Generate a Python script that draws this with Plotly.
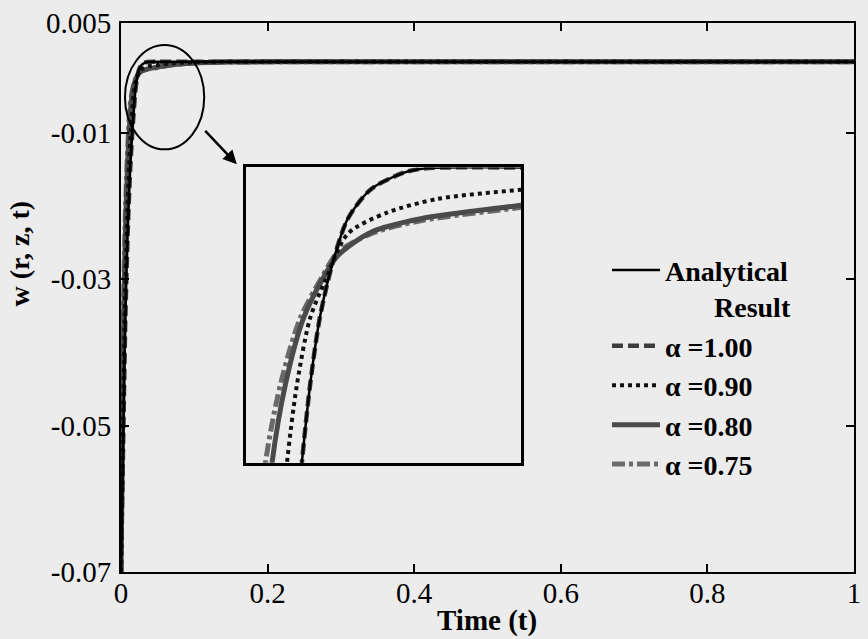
import plotly.graph_objects as go

# ---------------- data ----------------
t_analytical = [0, 0.003, 0.006, 0.009, 0.0125, 0.0155, 0.01816, 0.01936, 0.02076, 0.02268, 0.02484, 0.0282, 0.033, 0.03588, 0.05, 0.1, 0.5, 1.0]
w_analytical = [-0.07, -0.052, -0.035, -0.024, -0.015, -0.0098, -0.006, -0.0045, -0.00321, -0.00212, -0.00129, -0.00072, -0.0004, -0.00032, -0.0003, -0.0003, -0.0003, -0.0003]

t_a100 = [0, 0.003, 0.006, 0.009, 0.0125, 0.0155, 0.01816, 0.01936, 0.02076, 0.02268, 0.02484, 0.0282, 0.033, 0.03588, 0.05, 0.1, 0.5, 1.0]
w_a100 = [-0.07, -0.052, -0.035, -0.024, -0.015, -0.0098, -0.006, -0.0045, -0.00321, -0.00212, -0.00129, -0.00072, -0.0004, -0.00032, -0.0003, -0.0003, -0.0003, -0.0003]

t_a090 = [0, 0.0025, 0.005, 0.008, 0.011, 0.0135, 0.016, 0.01744, 0.01936, 0.02148, 0.02484, 0.0306, 0.0378, 0.05, 0.07, 0.1, 0.15, 0.5, 1.0]
w_a090 = [-0.07, -0.052, -0.035, -0.023, -0.0145, -0.0095, -0.006, -0.0045, -0.00321, -0.00251, -0.00158, -0.00117, -0.00091, -0.00073, -0.0005, -0.00035, -0.0003, -0.0003, -0.0003]

t_a080 = [0, 0.002, 0.004, 0.0065, 0.009, 0.0115, 0.01384, 0.01576, 0.0184, 0.02148, 0.0234, 0.0282, 0.0354, 0.05, 0.07, 0.1, 0.15, 0.25, 0.5, 1.0]
w_a080 = [-0.07, -0.05, -0.034, -0.022, -0.0145, -0.0093, -0.006, -0.0045, -0.00321, -0.00238, -0.002, -0.00155, -0.00129, -0.00103, -0.0007, -0.00045, -0.00033, -0.0003, -0.0003, -0.0003]

t_a075 = [0, 0.0018, 0.0035, 0.0058, 0.0082, 0.0105, 0.01288, 0.01504, 0.01792, 0.02124, 0.0234, 0.0282, 0.0354, 0.05, 0.07, 0.1, 0.15, 0.25, 0.5, 1.0]
w_a075 = [-0.07, -0.05, -0.034, -0.022, -0.0145, -0.0093, -0.006, -0.0045, -0.00321, -0.00238, -0.00194, -0.00158, -0.00133, -0.00107, -0.00072, -0.00046, -0.00033, -0.0003, -0.0003, -0.0003]

x_ticks = [0, 0.2, 0.4, 0.6, 0.8, 1]
x_tick_labels = ["0", "0.2", "0.4", "0.6", "0.8", "1"]
y_ticks = [0.005, -0.01, -0.03, -0.05, -0.07]
y_tick_labels = ["0.005", "-0.01", "-0.03", "-0.05", "-0.07"]

# inset (zoomed) window
inset_x_range = [0.01, 0.05]
inset_y_range = [-0.006, -0.0003]

# ---------------- figure ----------------
FONT = "Liberation Serif"
BG = "#ececec"
SP = "\u00a0" * 7

series = [
    # name, t, w, color, width, dash, rank
    ("α =0.75", t_a075, w_a075, "#6a6a6a", 5, "13px,4px,4px,4px", 5),
    ("α =0.80", t_a080, w_a080, "#4a4a4a", 5, "solid", 4),
    ("α =1.00", t_a100, w_a100, "#3c3c3c", 4.5, "11px,5px", 2),
    ("α =0.90", t_a090, w_a090, "#111111", 4, "4px,4px", 3),
    ("Analytical<br>" + SP + "Result", t_analytical, w_analytical, "#000000", 2.5, "solid", 1),
]

fig = go.Figure()
for name, t, w, col, lw, dash, rank in series:
    fig.add_trace(go.Scatter(
        x=t, y=w, mode="lines", name="<b>" + name + "</b>",
        line=dict(color=col, width=lw, dash=dash, shape="spline", smoothing=0.8),
        legendrank=rank, legendgroup=name, xaxis="x", yaxis="y"))
for name, t, w, col, lw, dash, rank in series:
    fig.add_trace(go.Scatter(
        x=t, y=w, mode="lines", showlegend=False,
        line=dict(color=col, width=lw, dash=dash, shape="spline", smoothing=0.8),
        xaxis="x2", yaxis="y2"))

axis_common = dict(showline=True, linecolor="black", linewidth=2, mirror="ticks",
                   ticks="inside", ticklen=8, tickwidth=1.5, tickcolor="black",
                   showgrid=False, zeroline=False,
                   tickfont=dict(family=FONT, size=29, color="black"))

fig.update_layout(
    width=868, height=639,
    margin=dict(l=121, r=7, t=20, b=67),
    paper_bgcolor=BG, plot_bgcolor=BG,
    font=dict(family=FONT, color="black"),
    xaxis=dict(range=[0, 1], tickvals=x_tick_labels and x_ticks, ticktext=x_tick_labels,
               ticklabelstandoff=-6, **axis_common),
    yaxis=dict(range=[-0.07, 0.005], tickvals=y_ticks, ticktext=y_tick_labels,
               ticklabelstandoff=2, **axis_common),
    xaxis2=dict(domain=[0.170, 0.546], anchor="y2", range=inset_x_range,
                showline=True, linecolor="black", linewidth=2.5, mirror=True,
                showticklabels=False, ticks="", showgrid=False, zeroline=False),
    yaxis2=dict(domain=[0.199, 0.737], anchor="x2", range=inset_y_range,
                showline=True, linecolor="black", linewidth=2.5, mirror=True,
                showticklabels=False, ticks="", showgrid=False, zeroline=False),
    legend=dict(x=0.663, y=0.595, xanchor="left", yanchor="top", valign="top",
                bgcolor="rgba(0,0,0,0)", borderwidth=0, itemwidth=48,
                font=dict(family=FONT, size=28, color="black"),
                tracegroupgap=0, traceorder="grouped"),
    showlegend=True,
)

# axis titles
fig.add_annotation(text="<b>w (r, z, t)</b>", textangle=-90, xref="paper", yref="paper",
                   x=-0.138, y=0.58, showarrow=False, xanchor="center", yanchor="middle",
                   font=dict(family=FONT, size=28, color="black"))
fig.add_annotation(text="<b>Time (t)</b>", xref="paper", yref="paper",
                   x=0.499, y=-0.088, showarrow=False, xanchor="center", yanchor="middle",
                   font=dict(family=FONT, size=29, color="black"))

# ellipse highlighting the knee region
fig.add_shape(type="circle", xref="x", yref="y", x0=0.0054, x1=0.1135, y0=-0.01226, y1=0.002,
              line=dict(color="black", width=2))

# arrow pointing to the inset
fig.add_annotation(x=0.158, y=-0.0143, xref="x", yref="y", ax=-33, ay=-35,
                   showarrow=True, arrowhead=2, arrowsize=1.1, arrowwidth=2.5, arrowcolor="black",
                   text="")

fig.write_html("out.html")
